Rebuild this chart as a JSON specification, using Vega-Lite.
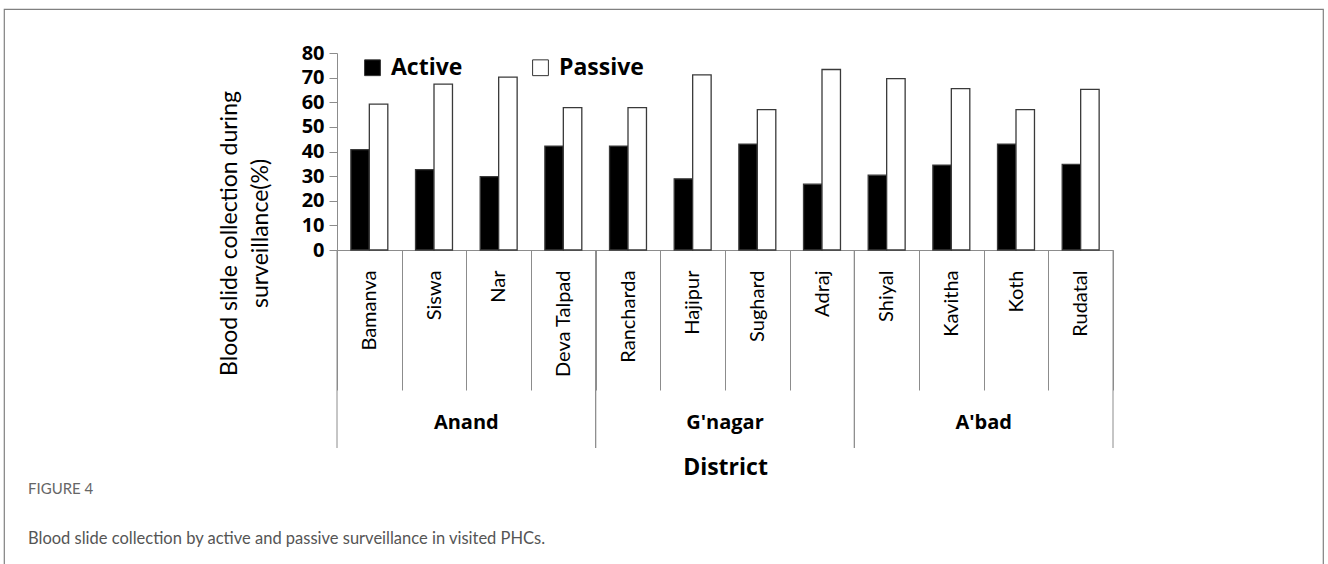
{
  "$schema": "https://vega.github.io/schema/vega-lite/v6.json",
  "width": 1319,
  "height": 560,
  "padding": {"left": 4, "top": 9, "right": 5, "bottom": 0},
  "autosize": {"type": "none"},
  "background": "white",
  "config": {
    "view": {"stroke": "#808080", "strokeWidth": 1.2},
    "axis": {"grid": false}
  },
  "title": {
    "text": "FIGURE 4",
    "subtitle": "Blood slide collection by active and passive surveillance in visited PHCs.",
    "orient": "bottom",
    "anchor": "start",
    "frame": "group",
    "baseline": "top",
    "offset": -87,
    "dx": 24,
    "font": "Lato",
    "fontSize": 15,
    "fontWeight": "normal",
    "color": "#666666",
    "subtitleFont": "Lato",
    "subtitleFontSize": 16.5,
    "subtitleColor": "#555555",
    "subtitlePadding": 34
  },
  "datasets": {
    "bars": [
      {"site": "Bamanva", "type": "Active", "value": 40.8},
      {"site": "Bamanva", "type": "Passive", "value": 59.2},
      {"site": "Siswa", "type": "Active", "value": 32.6},
      {"site": "Siswa", "type": "Passive", "value": 67.4},
      {"site": "Nar", "type": "Active", "value": 29.8},
      {"site": "Nar", "type": "Passive", "value": 70.2},
      {"site": "Deva Talpad", "type": "Active", "value": 42.2},
      {"site": "Deva Talpad", "type": "Passive", "value": 57.8},
      {"site": "Rancharda", "type": "Active", "value": 42.2},
      {"site": "Rancharda", "type": "Passive", "value": 57.8},
      {"site": "Hajipur", "type": "Active", "value": 28.9},
      {"site": "Hajipur", "type": "Passive", "value": 71.1},
      {"site": "Sughard", "type": "Active", "value": 43.0},
      {"site": "Sughard", "type": "Passive", "value": 57.0},
      {"site": "Adraj", "type": "Active", "value": 26.7},
      {"site": "Adraj", "type": "Passive", "value": 73.3},
      {"site": "Shiyal", "type": "Active", "value": 30.4},
      {"site": "Shiyal", "type": "Passive", "value": 69.6},
      {"site": "Kavitha", "type": "Active", "value": 34.5},
      {"site": "Kavitha", "type": "Passive", "value": 65.5},
      {"site": "Koth", "type": "Active", "value": 43.0},
      {"site": "Koth", "type": "Passive", "value": 57.0},
      {"site": "Rudatal", "type": "Active", "value": 34.8},
      {"site": "Rudatal", "type": "Passive", "value": 65.2}
    ],
    "districts": [
      {"district": "Anand"},
      {"district": "G'nagar"},
      {"district": "A'bad"}
    ]
  },
  "layer": [
    {
      "data": {"name": "bars"},
      "mark": {"type": "bar", "stroke": "#3a3a3a", "strokeWidth": 1.3},
      "encoding": {
        "x": {
          "field": "site",
          "type": "nominal",
          "sort": ["Bamanva", "Siswa", "Nar", "Deva Talpad", "Rancharda", "Hajipur", "Sughard", "Adraj", "Shiyal", "Kavitha", "Koth", "Rudatal"],
          "scale": {"range": [333, 1109], "paddingInner": 0, "paddingOuter": 0},
          "axis": {
            "orient": "bottom",
            "offset": -319,
            "title": "District",
            "tickBand": "extent",
            "tickSize": 140,
            "tickColor": "#8c8c8c",
            "tickWidth": 1,
            "domainColor": "#8c8c8c",
            "labelAngle": 270,
            "labelAlign": "right",
            "labelBaseline": "middle",
            "labelPadding": -120,
            "labelFont": "Lato",
            "labelFontSize": 20,
            "labelColor": "#000000",
            "labelOverlap": false,
            "labelLimit": 0,
            "titleFont": "Open Sans",
            "titleFontSize": 23,
            "titleFontWeight": "bold",
            "titleColor": "#000000",
            "titleY": 217,
            "titleBaseline": "middle"
          }
        },
        "xOffset": {
          "field": "type",
          "type": "nominal",
          "sort": ["Active", "Passive"],
          "scale": {"paddingInner": 0, "paddingOuter": 0.75}
        },
        "y": {
          "field": "value",
          "type": "quantitative",
          "scale": {"domain": [0, 80], "range": [241, 44], "nice": false, "zero": true},
          "axis": {
            "orient": "left",
            "offset": -333,
            "values": [0, 10, 20, 30, 40, 50, 60, 70, 80],
            "tickSize": 8,
            "tickColor": "#8c8c8c",
            "domainColor": "#8c8c8c",
            "labelFont": "Open Sans",
            "labelFontSize": 20,
            "labelFontWeight": "bold",
            "labelColor": "#000000",
            "labelPadding": 5,
            "labelFlush": false,
            "title": ["Blood slide collection during", "surveillance(%)"],
            "titleFont": "Lato",
            "titleFontSize": 23,
            "titleFontWeight": "normal",
            "titleColor": "#000000",
            "titleAngle": 270,
            "titleAlign": "center",
            "titleBaseline": "alphabetic",
            "titleLineHeight": 31,
            "titleX": -101,
            "titleY": 224
          }
        },
        "fill": {
          "field": "type",
          "type": "nominal",
          "scale": {"domain": ["Active", "Passive"], "range": ["#000000", "#ffffff"]},
          "legend": {
            "orient": "none",
            "legendX": 357,
            "legendY": 47,
            "direction": "horizontal",
            "title": null,
            "symbolType": "square",
            "symbolSize": 250,
            "symbolStrokeColor": "#333333",
            "symbolStrokeWidth": 1,
            "labelFont": "Open Sans",
            "labelFontSize": 23,
            "labelFontWeight": "bold",
            "labelColor": "#000000",
            "labelOffset": 7,
            "columnPadding": 66,
            "padding": 0
          }
        }
      }
    },
    {
      "data": {"name": "districts"},
      "layer": [
        {
          "mark": {"type": "rule", "color": "#8c8c8c", "strokeWidth": 1},
          "encoding": {
            "x": {
              "field": "district",
              "type": "nominal",
              "sort": ["Anand", "G'nagar", "A'bad"],
              "bandPosition": 0,
              "scale": {"range": [333, 1109], "paddingInner": 0, "paddingOuter": 0},
              "axis": null
            },
            "y": {"datum": 0},
            "y2": {"datum": -80.4}
          }
        },
        {
          "mark": {"type": "rule", "color": "#8c8c8c", "strokeWidth": 1},
          "encoding": {
            "x": {
              "field": "district",
              "type": "nominal",
              "sort": ["Anand", "G'nagar", "A'bad"],
              "bandPosition": 1,
              "axis": null
            },
            "y": {"datum": 0},
            "y2": {"datum": -80.4}
          }
        },
        {
          "mark": {"type": "text", "font": "Open Sans", "fontSize": 20, "fontWeight": "bold", "color": "#000000", "baseline": "middle", "align": "center"},
          "encoding": {
            "x": {
              "field": "district",
              "type": "nominal",
              "sort": ["Anand", "G'nagar", "A'bad"],
              "bandPosition": 0.5,
              "axis": null
            },
            "y": {"datum": -70.3},
            "text": {"field": "district"}
          }
        }
      ]
    }
  ],
  "resolve": {"scale": {"x": "independent"}}
}
